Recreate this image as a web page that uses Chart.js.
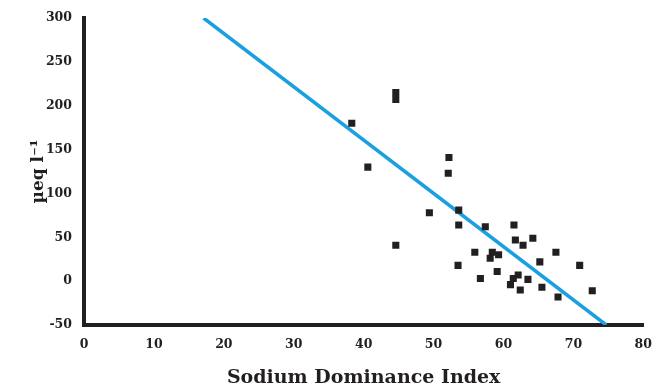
<!DOCTYPE html>
<html>
<head>
<meta charset="utf-8">
<script src="https://cdn.jsdelivr.net/npm/chart.js@4"></script>
<style>
  html, body { margin: 0; padding: 0; background: #fff; }
  .wrap { position: relative; width: 656px; height: 387px; }
</style>
</head>
<body>
<div class="wrap"><canvas id="chart"></canvas></div>
<script>
// ===== Sodium dominance scatter =====
const sdiX = [44.6, 44.6, 38.3, 40.6, 52.2, 52.1, 44.6, 49.4, 53.6, 53.6, 57.4, 61.5,
  61.7, 62.8, 64.2, 55.9, 58.4, 58.1, 59.3, 67.5, 53.5, 56.7, 59.1, 65.2, 70.9,
  61.4, 62.1, 61.0, 62.4, 65.5, 67.8, 72.7, 63.5];
const ueqY = [215, 207, 180, 130, 141, 123, 41, 78, 81, 64, 62, 64,
  47, 41, 49, 33, 33, 26, 30, 33, 18, 3, 11, 22, 18,
  3, 7, -4, -10, -7, -18, -11, 2];
const fitX = [17.1, 74.7];
const fitY = [300, -50];
const xTicks = [0, 10, 20, 30, 40, 50, 60, 70, 80];
const yTicks = [-50, 0, 50, 100, 150, 200, 250, 300];

const INK = "#231f20", LINE = "#1a9fe0";
const SERIF = "'DejaVu Serif', serif";

const el = (id) => document.getElementById(id);

const axisTicks = { color: INK, font: { family: SERIF, size: 12.5, weight: "bold" }, padding: 4 };

new Chart(el("chart"), {
  type: "scatter",
  data: {
    datasets: [
      {
        label: "samples",
        data: sdiX.map((x, i) => ({ x, y: ueqY[i] })),
        pointStyle: "rect", pointRadius: 5, backgroundColor: INK, borderColor: INK, borderWidth: 0
      },
      {
        type: "line", label: "fit",
        data: fitX.map((x, i) => ({ x, y: fitY[i] })),
        borderColor: LINE, borderWidth: 3.5, pointRadius: 0, fill: false
      }
    ]
  },
  options: {
    responsive: true, maintainAspectRatio: false, animation: false,
    layout: { padding: { left: 0, right: 6, top: 18, bottom: 0 } },
    plugins: { legend: { display: false }, tooltip: { enabled: false } },
    scales: {
      x: {
        type: "linear", min: 0, max: 80,
        afterBuildTicks: s => { s.ticks = xTicks.map(v => ({ value: v })); },
        afterFit: s => { s.height = 62; },
        grid: { display: false },
        border: { display: true, color: INK, width: 4 },
        ticks: axisTicks,
        title: { display: true, text: "Sodium Dominance Index", color: INK,
          font: { family: SERIF, size: 19, weight: "bold" }, padding: { top: 0, bottom: -2 } }
      },
      y: {
        type: "linear", min: -50, max: 300,
        afterBuildTicks: s => { s.ticks = yTicks.map(v => ({ value: v })); },
        afterFit: s => { s.width = 84; },
        grid: { display: false },
        border: { display: true, color: INK, width: 4 },
        ticks: axisTicks,
        title: { display: true, text: "µeq l⁻¹", color: INK,
          font: { family: SERIF, size: 17, weight: "bold" }, padding: { top: 28, bottom: 0 } }
      }
    }
  }
});
</script>
</body>
</html>
